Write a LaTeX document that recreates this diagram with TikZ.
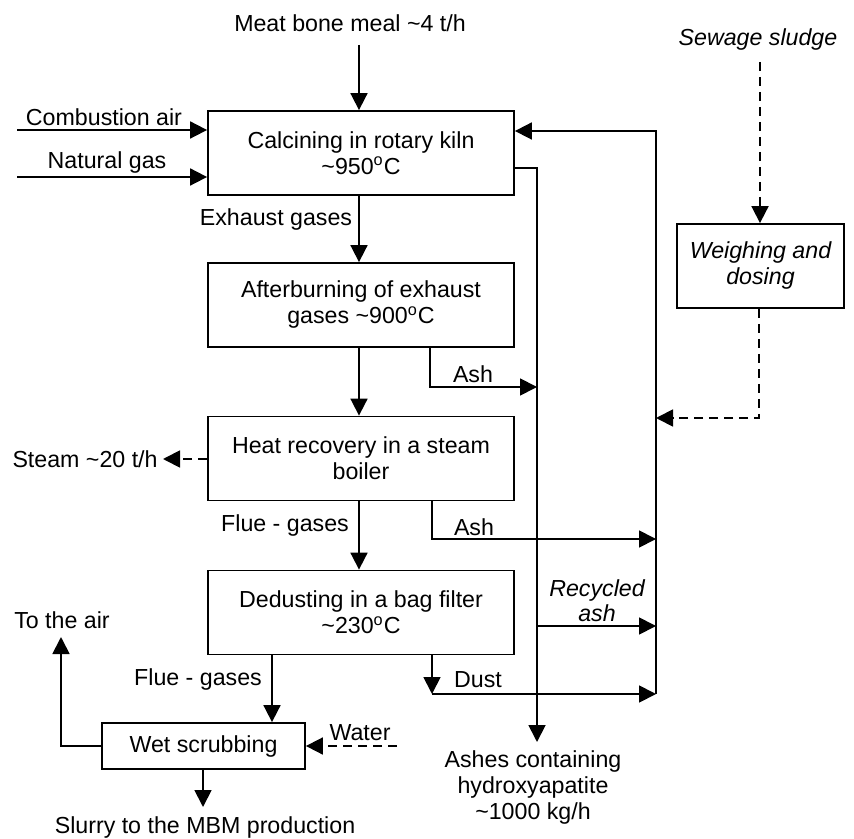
\documentclass[tikz,border=0pt]{standalone}
\usepackage{fontspec}
\setmainfont{Liberation Sans}
\usetikzlibrary{arrows.meta}
\begin{document}
\begin{tikzpicture}[x=0.5pt,y=-0.5pt,
  font=\fontsize{11.6}{13}\selectfont,
  box/.style={draw,line width=0.9pt,minimum width=153pt,minimum height=42pt,align=center,inner sep=2pt},
  lbl/.style={inner sep=1pt,align=center},
  flow/.style={line width=0.9pt,-{Triangle[length=8.5pt,width=8.5pt]}},
  dflow/.style={flow,dash pattern=on 4.5pt off 3pt},
]
\useasboundingbox (0,0) rectangle (854,838);

% process boxes
\node[box] (calc) at (361,153) {Calcining in rotary kiln\\\textasciitilde950\textsuperscript{o}C};
\node[box] (after) at (361,305) {Afterburning of exhaust\\gases \textasciitilde900\textsuperscript{o}C};
\node[box] (heat) at (361,458.5) {Heat recovery in a steam\\boiler};
\node[box] (dedust) at (361,612.5) {Dedusting in a bag filter\\\textasciitilde230\textsuperscript{o}C};
\node[box,minimum width=101.5pt,minimum height=23pt] (wet) at (203.5,746) {Wet scrubbing};
\node[box,minimum width=83.5pt,minimum height=42pt,font=\fontsize{11.6}{13}\selectfont\itshape] (weigh) at (760.5,266) {Weighing and\\dosing};

% labels
\node[lbl] (meat) at (350,23) {Meat bone meal \textasciitilde4 t/h};
\node[lbl] (sew) at (758,40) {\itshape Sewage sludge};
\node[lbl] (comb) at (104,117) {Combustion air};
\node[lbl] (ng) at (107,163) {Natural gas};
\node[lbl] (exh) at (276,220) {Exhaust gases};
\node[lbl] (ash1) at (473,374) {Ash};
\node[lbl,anchor=east] (steam) at (160,459) {Steam \textasciitilde20 t/h};
\node[lbl] (flue1) at (285,525) {Flue - gases};
\node[lbl] (ash2) at (474,527) {Ash};
\node[lbl,font=\fontsize{11.6}{12.5}\selectfont\itshape] (rec) at (597,601) {Recycled\\ash};
\node[lbl] (air) at (62,620) {To the air};
\node[lbl] (dustl) at (478,680) {Dust};
\node[lbl] (flue2) at (198,679) {Flue - gases};
\node[lbl] (water) at (360,733) {Water};
\node[lbl] (ashes) at (533,787) {Ashes containing\\hydroxyapatite\\\textasciitilde1000 kg/h};
\node[lbl] (slurry) at (205,827) {Slurry to the MBM production};

% helper coordinates
\coordinate (col) at (359,0);
\coordinate (meatS) at (359,45);
\coordinate (caL) at (17,130);
\coordinate (ngL) at (17,177);
\coordinate (rtop) at (656,131);
\coordinate (rbot) at (656,694);
\coordinate (mtop) at (537,168);
\coordinate (mbot) at (537,742);
\coordinate (a1) at (430,387);
\coordinate (a2) at (432,539);
\coordinate (recL) at (537,626);
\coordinate (du) at (432,694);
\coordinate (sewS) at (760,62);
\coordinate (wd) at (759,418);
\coordinate (fg) at (272,0);
\coordinate (airT) at (61,637);
\coordinate (airC) at (61,746);
\coordinate (watR) at (397,746);
\coordinate (slB) at (203,807);
\coordinate (stE) at (163,459);

% inputs
\draw[flow] (meatS) -- (meatS |- calc.north);
\draw[flow] (caL) -- (caL -| calc.west);
\draw[flow] (ngL) -- (ngL -| calc.west);

% main gas path
\draw[flow] (calc.south -| col) -- (after.north -| col);
\draw[flow] (after.south -| col) -- (heat.north -| col);
\draw[flow] (heat.south -| col) -- (dedust.north -| col);
\draw[flow] (dedust.south -| fg) -- (wet.north -| fg);

% recycle line on the right
\draw[flow] (rbot) -- (rtop) -- (rtop -| calc.east);

% ash outlet line
\draw[flow] (calc.east |- mtop) -- (mtop) -- (mbot);

% ash streams
\draw[flow] (after.south -| a1) -- (a1) -- (a1 -| mtop);
\draw[flow] (heat.south -| a2) -- (a2) -- (a2 -| rtop);
\draw[flow] (recL) -- (recL -| rtop);
\draw[flow] (dedust.south -| du) -- (du);
\draw[flow] (du) -- (du -| rtop);

% sewage sludge
\draw[dflow] (sewS) -- (sewS |- weigh.north);
\draw[dflow] (weigh.south -| wd) -- (wd) -- (wd -| rtop);

% steam
\draw[dflow] (heat.west |- stE) -- (stE);

% wet scrubbing
\draw[flow] (wet.west) -- (airC) -- (airT);
\draw[dflow] (watR) -- (wet.east);
\draw[flow] (wet.south -| slB) -- (slB);
\end{tikzpicture}
\end{document}
